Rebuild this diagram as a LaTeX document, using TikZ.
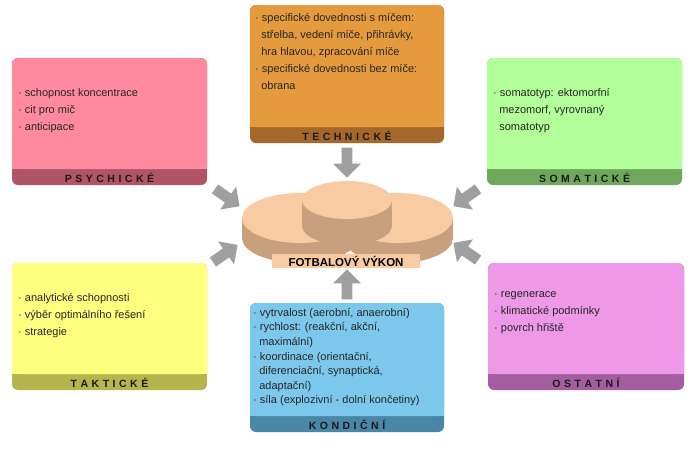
\documentclass[tikz,border=0pt]{standalone}
\usepackage{fontspec}
\setmainfont{Liberation Sans}
\usetikzlibrary{shapes.arrows}
\definecolor{pk}{HTML}{FF8AA0}\definecolor{pkd}{HTML}{B05468}
\definecolor{or}{HTML}{E59A3E}\definecolor{ord}{HTML}{A5682A}
\definecolor{gr}{HTML}{B3FF99}\definecolor{grd}{HTML}{6FA85C}
\definecolor{ye}{HTML}{FFFF80}\definecolor{yed}{HTML}{B5B54E}
\definecolor{bl}{HTML}{7CC8EC}\definecolor{bld}{HTML}{4A86A5}
\definecolor{vi}{HTML}{EE99E8}\definecolor{vid}{HTML}{A45DA0}
\definecolor{peach}{HTML}{F8CBA2}\definecolor{peachd}{HTML}{C9A07E}
\tikzset{txt/.style={anchor=north west,align=left,font=\fontsize{11}{17}\selectfont,text=black!85,inner sep=0pt},
lab/.style={font=\bfseries\fontsize{10.5}{12}\selectfont,text=black!90},
arr/.style={single arrow,draw=none,fill=gray!75,minimum height=30pt,minimum width=28pt,single arrow head extend=5pt,inner sep=3pt}}
\newcommand{\card}[7]{% x1 y1 x2 y2 fill dark label
\fill[#6,rounded corners=6pt] (#1,#2) rectangle (#3,#4);
\fill[#5,rounded corners=6pt] (#1,#2) rectangle (#3,#4-16);
\fill[#5] (#1,#4-22) rectangle (#3,#4-16);
\node[lab] at ({(#1+#3)/2},#4-7.5) {#7};}
\newcommand{\disc}[5]{% cx cy rx ry h
\fill[peachd] (#1,#2+#5) ellipse[x radius=#3,y radius=#4];
\fill[peachd] (#1-#3,#2) rectangle (#1+#3,#2+#5);
\fill[peach] (#1,#2) ellipse[x radius=#3,y radius=#4];}
\begin{document}
\begin{tikzpicture}[x=1pt,y=-1pt]
\useasboundingbox (0,0) rectangle (700,451);
\fill[white] (0,0) rectangle (700,451);
\card{12}{58}{207}{185}{pk}{pkd}{P\,\,S\,\,Y\,\,C\,\,H\,\,I\,\,C\,\,K\,\,É}
\node[txt] (p) at (18,88) {· schopnost koncentrace\\· cit pro mič\\· anticipace};
\card{250}{5}{444}{143}{or}{ord}{T\,\,E\,\,C\,\,H\,\,N\,\,I\,\,C\,\,K\,\,É}
\node[txt] (t) at (255,13) {· specifické dovednosti s míčem:\\\ \ střelba, vedení míče, přihrávky,\\\ \ hra hlavou, zpracování míče\\· specifické dovednosti bez míče:\\\ \ obrana};
\card{487}{58}{682}{185}{gr}{grd}{S\,\,O\,\,M\,\,A\,\,T\,\,I\,\,C\,\,K\,\,É}
\node[txt] (s) at (493,88) {· somatotyp: ektomorfní\\\ \ mezomorf, vyrovnaný\\\ \ somatotyp};
\card{12}{263}{207}{390}{ye}{yed}{T\,\,A\,\,K\,\,T\,\,I\,\,C\,\,K\,\,É}
\node[txt] (k) at (18,293) {· analytické schopnosti\\· výběr optimálního řešení\\· strategie};
\card{250}{303}{444}{432}{bl}{bld}{K\,\,O\,\,N\,\,D\,\,I\,\,Č\,\,N\,\,Í}
\node[txt,font=\fontsize{11}{14.6}\selectfont] (c) at (253,308) {· vytrvalost (aerobní, anaerobní)\\· rychlost: (reakční, akční,\\\ \ maximální)\\· koordinace (orientační,\\\ \ diferenciační, synaptická,\\\ \ adaptační)\\· síla (explozivní - dolní končetiny)};
\card{488}{263}{684}{390}{vi}{vid}{O\,\,S\,\,T\,\,A\,\,T\,\,N\,\,Í}
\node[txt] (o) at (494,291) {· regenerace\\· klimatické podmínky\\· povrch hřiště};
\disc{300}{218}{58}{25}{20}
\disc{398}{218}{55}{25}{20}
\disc{347}{200}{45}{19}{26}
\node[fill=peach,font=\bfseries\fontsize{11.5}{12}\selectfont,minimum width=148pt,inner sep=2pt] (f) at (346,261) {FOTBALOVÝ VÝKON};
\node[arr,rotate=-90] (a1) at (347,160) {};
\node[arr,rotate=-35] (a2) at (225,196) {};
\node[arr,rotate=35] (a3) at (223,255) {};
\node[arr,rotate=-145] (a4) at (468,196) {};
\node[arr,rotate=145] (a5) at (468,253) {};
\node[arr,rotate=90] (a6) at (347,287) {};
\end{tikzpicture}
\end{document}
